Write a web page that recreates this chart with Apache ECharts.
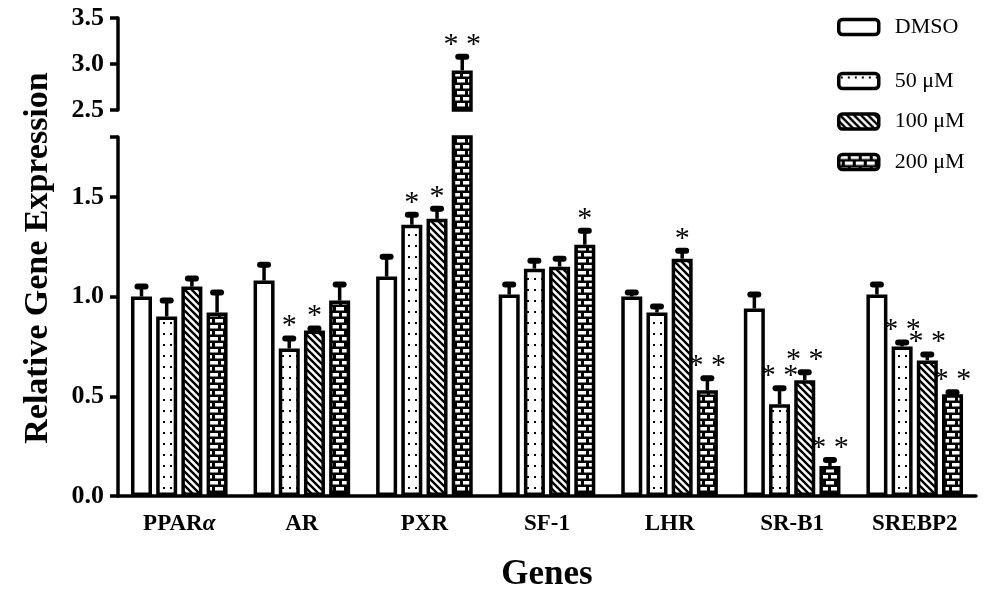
<!DOCTYPE html>
<html>
<head>
<meta charset="utf-8">
<script src="https://cdn.jsdelivr.net/npm/echarts@6/dist/echarts.min.js"></script>
<style>
  html, body { margin: 0; padding: 0; background: #fff; }
  #chart { width: 987px; height: 597px; }
</style>
</head>
<body>
<div id="chart"></div>
<script>
// values
const genes = ['PPARα', 'AR', 'PXR', 'SF-1', 'LHR', 'SR-B1', 'SREBP2']
const groups = ['DMSO', '50 μM', '100 μM', '200 μM']

const dmso     = [1.00, 1.08, 1.10, 1.01, 1.00, 0.94, 1.01]
const dmsoErr  = [0.05, 0.08, 0.10, 0.05, 0.02, 0.07, 0.05]
const m50      = [0.90, 0.74, 1.36, 1.14, 0.92, 0.46, 0.75]
const m50Err   = [0.08, 0.05, 0.05, 0.04, 0.03, 0.08, 0.02]
const m100     = [1.05, 0.83, 1.39, 1.15, 1.19, 0.58, 0.68]
const m100Err  = [0.04, 0.01, 0.05, 0.04, 0.04, 0.04, 0.03]
const m200     = [0.92, 0.98, 2.93, 1.26, 0.53, 0.15, 0.51]
const m200Err  = [0.10, 0.08, 0.15, 0.07, 0.06, 0.03, 0.01]

const starsDmso = ['', '', '', '', '', '', '']
const stars50   = ['', '*', '*', '', '', '* *', '* *']
const stars100  = ['', '*', '*', '', '*', '* *', '* *']
const stars200  = ['', '', '* *', '*', '* *', '* *', '* *']

const lowerTicks = [0, 0.5, 1.0, 1.5]   // lower segment, axis broken at 1.8
const upperTicks = [2.5, 3.0, 3.5]

const means = [dmso, m50, m100, m200]
const errs = [dmsoErr, m50Err, m100Err, m200Err]
const stars = [starsDmso, stars50, stars100, stars200]

const lowerMax = 1.8
const upperMin = 2.5
const upperMax = 3.5

const font = '"Liberation Serif", "Times New Roman", serif'
const barW = 21
const barGap = 0.2
const step = barW * (1 + barGap)

// fill patterns
const tile = (w, h, draw) => {
    let c = document.createElement('canvas')
    c.width = w
    c.height = h
    let ctx = c.getContext('2d')
    ctx.fillStyle = '#fff'
    ctx.fillRect(0, 0, w, h)
    ctx.fillStyle = '#000'
    ctx.strokeStyle = '#000'
    draw(ctx, w, h)
    return { image: c, repeat: 'repeat' }
}
const fills = [
    '#fff',
    tile(7, 11, ctx => {
        ctx.fillRect(2, 3, 2, 2)
    }),
    tile(7, 7, (ctx, s) => {
        ctx.lineWidth = 2.4
        ctx.beginPath()
        for (let k = -s; k <= s; k += s) {
            ctx.moveTo(-1, k - 1)
            ctx.lineTo(s + 1, s + 1 + k)
        }
        ctx.stroke()
    }),
    tile(22, 12, ctx => {
        ctx.fillRect(0, 0, 22, 12)
        ctx.fillStyle = '#fff'
        ctx.fillRect(1, 1, 8, 3.5)
        ctx.fillRect(12, 1, 8, 3.5)
        ctx.fillRect(0, 7, 3, 3.5)
        ctx.fillRect(6, 7, 8, 3.5)
        ctx.fillRect(17, 7, 5, 3.5)
    })
]

const barSeries = (axis, filter) => groups.map((name, i) => ({
    name: name,
    type: 'bar',
    xAxisIndex: axis,
    yAxisIndex: axis,
    barWidth: barW,
    barGap: (barGap * 100) + '%',
    clip: true,
    data: means[i].map(filter),
    itemStyle: {
        color: fills[i],
        borderColor: '#000',
        borderWidth: 3.5
    }
}))

const errItems = axis => {
    let arr = []
    groups.forEach((g, i) => {
        means[i].forEach((v, c) => {
            if ((v >= upperMin) === (axis === 1)) {
                arr.push({ cat: c, s: i, mean: v, err: errs[i][c], star: stars[i][c] })
            }
        })
    })
    return arr
}

const errSeries = axis => {
    let items = errItems(axis)
    return {
        type: 'custom',
        xAxisIndex: axis,
        yAxisIndex: axis,
        z: 5,
        silent: true,
        data: items.map(d => [d.cat, d.mean + d.err]),
        renderItem: (params, api) => {
            let d = items[params.dataIndex]
            let p0 = api.coord([d.cat, d.mean])
            let p1 = api.coord([d.cat, d.mean + d.err])
            let x = p0[0] + (d.s - 1.5) * step
            return {
                type: 'group',
                children: [
                    {
                        type: 'line',
                        shape: { x1: x, y1: p0[1], x2: x, y2: p1[1] },
                        style: { stroke: '#000', lineWidth: 3.5 }
                    },
                    {
                        type: 'rect',
                        shape: { x: x - 7, y: p1[1] - 3, width: 14, height: 6, r: 3 },
                        style: { fill: '#000' }
                    },
                    {
                        type: 'text',
                        x: x,
                        y: p1[1] + 3,
                        style: {
                            text: d.star,
                            font: '30px ' + font,
                            fill: '#000',
                            align: 'center',
                            verticalAlign: 'bottom'
                        }
                    }
                ]
            }
        }
    }
}

const yAxisBase = {
    type: 'value',
    interval: 0.5,
    axisLine: { show: true, lineStyle: { color: '#000', width: 3.5 } },
    axisTick: { show: true, length: 8, lineStyle: { color: '#000', width: 3.5 } },
    splitLine: { show: false },
    axisLabel: {
        color: '#000',
        fontFamily: font,
        fontWeight: 'bold',
        fontSize: 26,
        margin: 14
    }
}

const legendBase = {
    icon: 'roundRect',
    left: 832,
    itemWidth: 40,
    itemHeight: 15,
    itemStyle: { borderColor: '#000', borderWidth: 3.5 },
    textStyle: {
        color: '#000',
        fontFamily: font,
        fontSize: 22,
        lineHeight: 20,
        padding: [0, 0, 0, 11]
    },
    selectedMode: false
}

let chart = echarts.init(document.getElementById('chart'))
chart.setOption({
    backgroundColor: '#fff',
    animation: false,
    legend: [
        Object.assign({}, legendBase, { top: 11, data: [groups[0]] }),
        Object.assign({}, legendBase, { top: 65, orient: 'vertical', itemGap: 18.5, data: groups.slice(1) })
    ],
    grid: [
        { left: 118, right: 11, top: 137, height: 366 },
        { left: 118, right: 11, top: 18, height: 92 }
    ],
    xAxis: [
        {
            gridIndex: 0,
            type: 'category',
            data: genes,
            axisLine: { lineStyle: { color: '#000', width: 3.5 } },
            axisTick: { alignWithLabel: true, length: 11, lineStyle: { color: '#000', width: 3.5 } },
            axisLabel: {
                interval: 0,
                color: '#000',
                fontFamily: font,
                fontWeight: 'bold',
                fontSize: 23,
                margin: 17,
                formatter: v => v.replace('α', '{a|α}'),
                rich: {
                    a: { fontFamily: font, fontWeight: 'bold', fontStyle: 'italic', fontSize: 23, color: '#000' }
                }
            },
            name: 'Genes',
            nameLocation: 'middle',
            nameGap: 61,
            nameTextStyle: { color: '#000', fontFamily: font, fontWeight: 'bold', fontSize: 35 }
        },
        { gridIndex: 1, type: 'category', data: genes, show: false }
    ],
    yAxis: [
        Object.assign({}, yAxisBase, {
            gridIndex: 0,
            min: lowerTicks[0],
            max: lowerMax,
            axisLabel: Object.assign({}, yAxisBase.axisLabel, {
                formatter: v => lowerTicks.some(t => Math.abs(t - v) < 1e-6) ? v.toFixed(1) : ''
            })
        }),
        Object.assign({}, yAxisBase, {
            gridIndex: 1,
            min: upperMin,
            max: upperMax,
            axisLabel: Object.assign({}, yAxisBase.axisLabel, {
                formatter: v => upperTicks.some(t => Math.abs(t - v) < 1e-6) ? v.toFixed(1) : ''
            })
        })
    ],
    graphic: [{
        type: 'text',
        x: 38,
        y: 258,
        rotation: Math.PI / 2,
        style: {
            text: 'Relative Gene Expression',
            font: 'bold 34px ' + font,
            fill: '#000',
            align: 'center',
            verticalAlign: 'middle'
        }
    }],
    series: [
        ...barSeries(0, v => v),
        ...barSeries(1, v => v >= upperMin ? v : '-'),
        errSeries(0),
        errSeries(1)
    ]
})
</script>
</body>
</html>
